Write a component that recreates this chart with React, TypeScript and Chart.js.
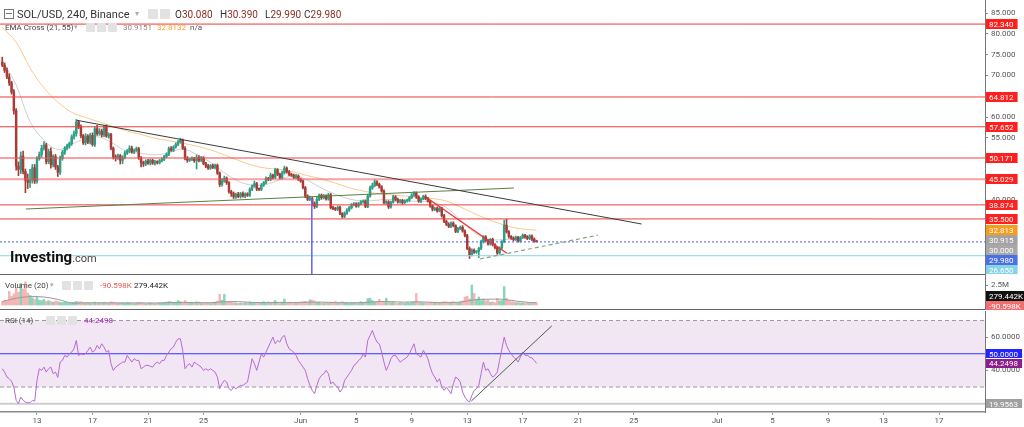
import React, { useEffect, useRef } from 'react';
import { Chart, registerables } from 'chart.js';

Chart.register(...registerables);

const FONT = 'Roboto, "Liberation Sans", Arial, sans-serif';

/* ======================= DATA ======================= */
// 4-hour candles: first one opens 10 May 12:00, last one opens 18 Jun 00:00
const FIRST_OPEN = 73.2;
const CLOSE = [
  72.5, 71.2, 69.6, 68.2, 66.0, 61.5, 48.2, 47.4, 50.6, 46.9, 44.8, 44.3,
  44.9, 47.8, 44.6, 50.0, 51.0, 52.5, 53.3, 49.3, 51.7, 48.5, 50.5, 48.0,
  46.7, 50.0, 51.5, 52.5, 53.0, 53.6, 55.2, 56.0, 58.8, 57.6, 55.5, 53.8,
  55.4, 54.0, 55.6, 53.4, 57.2, 56.0, 56.6, 55.7, 57.6, 55.4, 55.8, 52.5,
  50.4, 50.2, 50.7, 49.6, 50.3, 51.3, 51.8, 52.5, 51.6, 52.0, 52.4, 50.2,
  49.0, 48.7, 49.4, 48.9, 49.6, 48.9, 49.2, 49.0, 49.5, 49.8, 50.5, 51.0,
  52.4, 52.0, 52.8, 53.4, 54.0, 54.4, 52.5, 50.1, 49.6, 49.8, 50.0, 49.5,
  50.3, 49.6, 50.2, 48.8, 48.2, 47.7, 48.3, 47.9, 48.4, 46.5, 43.8, 44.6,
  45.3, 44.2, 42.0, 41.6, 40.8, 41.4, 40.9, 41.6, 41.0, 41.5, 41.2, 42.6,
  43.4, 44.0, 42.7, 42.6, 43.6, 44.2, 45.2, 45.0, 46.0, 45.5, 47.3, 46.2,
  45.4, 46.6, 47.7, 46.8, 46.2, 46.0, 45.5, 45.8, 45.0, 44.6, 43.0, 41.0,
  40.2, 40.4, 39.2, 38.5, 40.2, 41.2, 40.6, 41.0, 40.3, 41.3, 38.2, 38.0,
  37.8, 38.3, 36.8, 36.1, 36.9, 37.6, 38.2, 38.9, 39.1, 38.6, 39.2, 39.6,
  39.8, 38.5, 41.0, 42.9, 43.5, 44.4, 43.8, 43.2, 42.2, 39.4, 39.6, 38.4,
  39.5, 40.8, 40.2, 39.6, 39.9, 39.4, 39.8, 40.0, 40.6, 41.2, 41.7, 40.8,
  39.8, 40.3, 40.9, 40.4, 39.8, 38.6, 37.8, 38.0, 37.4, 38.1, 36.3, 34.9,
  34.2, 33.7, 34.5, 33.9, 32.5, 33.2, 33.5, 32.6, 31.5, 28.4, 26.9, 28.0,
  27.5, 27.7, 28.4, 30.0, 31.2, 30.3, 29.5, 30.6, 29.3, 28.6, 27.3, 28.5,
  30.0, 34.0, 32.4, 31.3, 30.9, 30.5, 31.1, 30.2, 31.0, 31.6, 31.2, 30.8,
  31.4, 30.6, 30.08, 29.98,
];
const UPPER_WICK = [
  1.2, 0.5, 0.6, 0.8, 0.4, 0.6, 0.5, 1.0, 1.0, 1.2, 0.6, 1.5,
  2.5, 0.8, 0.8, 0.5, 0.6, 0.7, 0.8, 0.4, 0.6, 0.9, 0.4, 0.5,
  0.4, 0.6, 0.5, 0.4, 0.5, 0.4, 0.5, 0.6, 0.6, 0.4, 0.5, 0.3,
  0.6, 0.4, 0.5, 0.6, 0.4, 0.8, 0.6, 0.5, 0.4, 0.5, 0.4, 0.3,
  0.3, 0.5, 0.4, 0.3, 0.4, 0.5, 0.4, 0.6, 0.5, 0.3, 0.4, 0.3,
  0.3, 0.4, 0.3, 0.4, 0.3, 0.3, 0.4, 0.3, 0.3, 0.4, 0.3, 0.4,
  0.4, 0.5, 0.3, 0.4, 0.4, 0.5, 0.3, 0.4, 0.4, 0.3, 0.4, 0.3,
  0.6, 0.4, 0.3, 0.3, 0.3, 0.4, 0.3, 0.4, 0.3, 0.3, 0.3, 0.6,
  0.5, 0.3, 0.3, 0.4, 0.4, 0.3, 0.5, 0.3, 0.4, 0.3, 0.3, 0.4,
  0.3, 0.6, 0.3, 0.3, 0.4, 0.3, 0.4, 0.3, 0.5, 0.3, 0.4, 0.3,
  0.3, 0.4, 0.5, 0.3, 0.3, 0.3, 0.3, 0.4, 0.3, 0.3, 0.3, 0.3,
  0.3, 0.6, 0.3, 0.4, 0.5, 0.3, 0.3, 0.4, 0.3, 0.4, 0.3, 0.3,
  0.3, 0.3, 0.3, 0.2, 0.3, 0.4, 0.3, 0.3, 0.3, 0.3, 0.3, 0.3,
  0.3, 0.3, 0.4, 0.5, 0.6, 0.5, 0.3, 0.3, 0.3, 0.3, 0.3, 0.3,
  0.3, 0.4, 0.3, 0.3, 0.3, 0.3, 0.3, 0.3, 0.3, 0.4, 0.4, 0.3,
  0.3, 0.2, 0.3, 0.4, 0.3, 0.2, 0.3, 0.3, 0.4, 0.3, 0.2, 0.3,
  0.3, 0.4, 0.3, 0.3, 0.2, 0.3, 0.3, 0.4, 0.3, 0.3, 0.4, 0.3,
  0.3, 0.2, 0.3, 0.4, 0.3, 0.3, 0.3, 0.2, 0.3, 0.3, 0.3, 0.3,
  0.3, 1.2, 1.4, 0.3, 0.2, 0.3, 0.3, 0.2, 0.3, 0.3, 0.2, 0.3,
  0.3, 0.3, 0.3, 0.31,
];
const LOWER_WICK = [
  0.4, 0.5, 0.4, 0.6, 0.5, 0.8, 1.0, 1.5, 1.0, 0.6, 3.0, 1.5,
  1.2, 0.8, 0.6, 0.5, 0.4, 0.6, 0.5, 0.6, 0.5, 0.8, 0.5, 0.6,
  1.0, 0.5, 0.4, 0.5, 0.4, 0.5, 0.4, 0.5, 0.6, 0.4, 0.5, 0.4,
  0.5, 0.4, 0.5, 0.4, 0.5, 0.4, 0.4, 0.5, 0.4, 0.3, 0.5, 0.4,
  0.5, 0.8, 0.4, 0.9, 0.8, 0.4, 0.3, 0.4, 0.3, 0.4, 0.3, 0.4,
  1.0, 0.6, 0.4, 0.3, 0.4, 0.3, 0.5, 0.3, 0.3, 0.3, 0.3, 0.3,
  0.3, 0.3, 0.3, 0.3, 0.3, 0.3, 0.3, 0.4, 0.5, 0.3, 0.3, 0.4,
  2.0, 0.4, 0.3, 0.3, 0.4, 0.3, 0.3, 0.3, 0.4, 0.3, 0.5, 0.4,
  0.3, 0.4, 0.3, 0.7, 0.4, 0.4, 0.3, 0.4, 0.3, 0.4, 0.3, 0.3,
  0.3, 0.3, 0.4, 0.3, 0.3, 0.3, 0.3, 0.3, 0.3, 0.4, 0.3, 0.3,
  0.3, 0.3, 0.3, 0.3, 0.3, 0.3, 0.3, 0.3, 0.3, 0.3, 0.3, 0.4,
  0.3, 0.3, 0.5, 0.5, 0.3, 0.3, 0.4, 0.3, 0.3, 0.3, 0.3, 0.3,
  0.3, 0.3, 0.3, 0.4, 0.3, 0.3, 0.3, 0.3, 0.3, 0.3, 0.3, 0.3,
  0.3, 0.3, 0.3, 0.3, 0.3, 0.3, 0.3, 0.3, 0.3, 0.3, 0.4, 0.4,
  0.3, 0.2, 0.4, 0.3, 0.3, 0.4, 0.2, 0.3, 0.3, 0.2, 0.3, 0.4,
  0.3, 0.4, 0.2, 0.3, 0.3, 0.3, 0.4, 0.3, 0.3, 0.2, 0.4, 0.3,
  0.3, 0.3, 0.3, 0.3, 0.3, 0.3, 0.3, 0.3, 0.3, 0.3, 0.9, 0.3,
  0.3, 0.3, 1.5, 0.3, 0.3, 0.3, 0.3, 0.3, 0.3, 0.3, 0.3, 0.3,
  0.3, 0.2, 0.3, 0.4, 0.3, 0.3, 0.2, 0.3, 0.3, 0.2, 0.3, 0.3,
  0.3, 0.3, 0.2, 0.0,
];
// volume in millions
const VOLUME_M = [
  0.4, 0.6, 0.5, 1.7, 1.1, 1.4, 2.2, 1.6, 2.7, 2.0, 2.9, 1.5,
  1.2, 0.9, 0.7, 1.0, 0.6, 0.55, 0.7, 0.45, 0.55, 0.45, 0.35, 0.5,
  0.45, 0.35, 0.3, 0.35, 0.3, 0.25, 0.3, 0.35, 0.45, 0.4, 0.42, 0.3,
  0.25, 0.3, 0.2, 0.25, 0.35, 0.2, 0.25, 0.2, 0.3, 0.25, 0.2, 0.4,
  0.35, 0.25, 0.2, 0.3, 0.25, 0.2, 0.3, 0.25, 0.2, 0.15, 0.25, 0.3,
  0.3, 0.2, 0.15, 0.2, 0.25, 0.2, 0.15, 0.2, 0.25, 0.2, 0.3, 0.35,
  0.42, 0.4, 0.3, 0.35, 0.55, 0.4, 0.3, 0.55, 0.35, 0.25, 0.3, 0.25,
  0.4, 0.35, 0.2, 0.25, 0.3, 0.25, 0.2, 0.3, 0.35, 0.5, 1.35, 0.6,
  1.35, 0.4, 0.35, 0.42, 0.3, 0.25, 0.2, 0.25, 0.2, 0.3, 0.25, 0.35,
  0.3, 0.25, 0.2, 0.3, 0.25, 0.42, 0.3, 0.4, 0.3, 0.35, 0.55, 0.3,
  0.25, 0.35, 0.75, 0.3, 0.25, 0.3, 0.2, 0.25, 0.3, 0.35, 0.4, 0.45,
  0.35, 0.65, 0.6, 0.5, 0.3, 0.35, 0.25, 0.2, 0.3, 0.25, 0.35, 0.3,
  0.42, 0.25, 0.3, 0.42, 0.3, 0.25, 0.2, 0.3, 0.25, 0.3, 0.2, 0.42,
  0.3, 0.35, 0.8, 0.85, 0.55, 0.4, 0.35, 0.7, 0.3, 0.4, 0.85, 0.35,
  0.3, 0.42, 0.25, 0.2, 0.3, 0.25, 0.2, 0.3, 0.25, 0.35, 0.4, 1.45,
  0.35, 0.3, 0.25, 0.3, 0.2, 0.3, 0.35, 0.3, 0.25, 0.3, 0.35, 0.42,
  0.4, 0.3, 0.35, 0.42, 0.3, 0.25, 0.4, 0.5, 1.0, 1.1, 0.75, 2.5,
  1.45, 0.65, 1.0, 0.55, 0.75, 0.5, 0.62, 0.35, 0.4, 0.3, 0.8, 0.5,
  0.55, 2.3, 0.85, 0.55, 0.4, 0.42, 0.3, 0.35, 0.25, 0.3, 0.2, 0.25,
  0.2, 0.25, 0.3, 0.28,
];
const RSI14 = [
  41, 39, 36, 35, 33.5, 30, 22, 19.96, 24, 22, 21, 20.5,
  20.6, 22, 21.5, 34, 41, 40, 42, 39, 41, 42, 38, 39,
  35.8, 45, 46, 49, 48, 50, 51, 53, 58, 49, 50, 49.5,
  50, 52, 54, 51, 52, 55, 53, 56, 54, 51, 52, 44,
  40, 42, 43, 44, 45, 45, 49, 47, 45, 47, 46, 46,
  41, 42, 43, 43, 42.5, 42, 44, 45, 44, 46, 46, 49,
  51, 53, 54, 57, 59, 59, 52, 41, 43, 44, 42, 45,
  44, 43, 42, 40, 41, 40, 41, 40, 39, 36, 29, 32,
  34, 33, 29, 28, 30, 29, 30, 31, 31, 32, 33, 40,
  47, 44, 40, 45, 50, 48, 51, 54, 57, 60, 56, 58,
  57, 60, 61, 56, 53, 52, 51, 49, 46, 44, 42, 40,
  35, 31, 28, 26, 31, 35, 37, 38, 40, 38, 32, 33,
  31, 30, 27, 29, 34, 36, 38, 40, 43, 44, 46, 47,
  50, 48, 58, 61, 64, 60, 57, 56, 51, 45, 40, 43,
  47, 49, 49, 47, 45, 46, 47, 48, 50, 53, 56, 50,
  49, 48, 52, 50, 47, 42, 38, 36, 33, 35, 30, 28,
  30, 28, 26, 32, 36, 35, 33, 27, 24, 22, 21, 25,
  28, 29, 31, 38, 45, 40, 41, 38, 36, 37, 39, 46,
  53, 60, 55, 52, 50, 48, 47, 45, 48, 51, 49, 49,
  48, 47.5, 46, 44.25,
];
// indicator values sampled once a day (candle index)
const DAILY_INDEX = [0, 6, 12, 18, 24, 30, 36, 42, 48, 54, 60, 66, 72, 78, 84, 90, 96, 102, 108, 114, 120, 126, 132, 138, 144, 150, 156, 162, 168, 174, 180, 186, 192, 198, 204, 210, 216, 222, 228, 231];
const EMA21 = [73.5, 67.7, 58.9, 54.4, 52.2, 53.5, 54.8, 55.2, 53.6, 51.7, 51.3, 50.9, 51.4, 52.3, 51.0, 49.1, 46.6, 44.6, 43.6, 43.8, 44.9, 45.9, 44.8, 42.9, 41.4, 40.3, 39.8, 40.0, 40.2, 39.9, 39.7, 39.5, 38.2, 35.3, 32.3, 30.6, 30.5, 30.8, 30.9, 30.92];
const EMA55 = [81.5, 78.0, 71.8, 67.0, 63.6, 61.1, 59.9, 58.8, 57.7, 56.6, 55.8, 54.9, 54.3, 53.7, 53.0, 52.1, 50.9, 49.6, 48.4, 47.7, 47.4, 46.8, 45.9, 45.1, 44.1, 43.0, 42.2, 41.6, 41.3, 41.0, 40.7, 40.4, 39.8, 38.4, 36.8, 35.4, 34.2, 33.3, 32.9, 32.81];
const VOL_MA20 = [0.42, 0.85, 1.05, 1.0, 0.7, 0.25, 0.28, 0.28, 0.27, 0.26, 0.26, 0.25, 0.3, 0.32, 0.3, 0.29, 0.4, 0.42, 0.33, 0.29, 0.32, 0.31, 0.35, 0.36, 0.3, 0.28, 0.3, 0.42, 0.42, 0.36, 0.4, 0.33, 0.3, 0.36, 0.65, 0.72, 0.72, 0.5, 0.32, 0.29];

const LEVELS = [82.34, 64.812, 57.652, 50.171, 45.029, 38.874, 35.5];
const LEVEL_TEXT = ['82.340', '64.812', '57.652', '50.171', '45.029', '38.874', '35.500'];
const LAST_PRICE = 29.98;
const CYAN_LEVEL = 26.65;
const PRICE_TICKS = [25, 30, 35, 40, 45, 50, 55, 60, 65, 70, 75, 80, 85];

// drawn trend lines: [candle index, price]
const DESC_TREND = [[32.2, 59.21], [276.4, 34.28]];
const GREEN_TREND = [[10.2, 37.89], [221.2, 42.94]];
const RED_TREND = [[184.0, 40.4], [218.1, 27.24]];
const DASH_TREND = [[206.5, 25.87], [257.5, 31.6]];
const VERTICAL_MARK = [[133.8, 40.5], [133.8, 15]];
const RSI_TREND = [[202.8, 21.6], [237.6, 66.8]];

const RSI_UPPER = 70;
const RSI_MID = 50;
const RSI_LOWER = 30;
const RSI_LOW_MARK = 19.9563;
const RSI_TICKS = [40, 50, 60];
const VOL_TICKS = [2.5];

// time axis: days after 13 May
const FIRST_CANDLE_DAY = -2.5;
const CANDLES_PER_DAY = 6;
const X_TICK_DAYS = [0, 4, 8, 12, 19, 23, 27, 31, 35, 39, 43, 49, 53, 57, 61, 65];
const X_TICK_LABELS = ['13', '17', '21', '25', 'Jun', '5', '9', '13', '17', '21', '25', 'Jul', '5', '9', '13', '17'];

/* ======================= layout / style ======================= */
const X_MIN = -0.99;
const X_MAX = 424.86;
const AXIS_W = 39;
const UP = '#2c9f86';
const DOWN = '#a83b35';
const UP_VOL = 'rgba(40,180,130,0.55)';
const DOWN_VOL = 'rgba(240,110,110,0.5)';
const THICK_LEVELS = [50.171, 45.029];

const OPEN = CLOSE.map((_, i) => (i === 0 ? FIRST_OPEN : CLOSE[i - 1]));
const HIGH = CLOSE.map((c, i) => Math.max(OPEN[i], c) + UPPER_WICK[i]);
const LOW = CLOSE.map((c, i) => Math.min(OPEN[i], c) - LOWER_WICK[i]);
const RISING = CLOSE.map((c, i) => c >= OPEN[i]);
const dayToIndex = (d: number) => (d - FIRST_CANDLE_DAY) * CANDLES_PER_DAY;

function seg(points: number[][], color: string, width = 1, dash: number[] = [], order = 1) {
  return {
    type: 'line',
    data: points.map(([x, y]) => ({ x, y })),
    borderColor: color,
    borderWidth: width,
    borderDash: dash,
    pointRadius: 0,
    fill: false,
    tension: 0,
    order,
  };
}

type AxisLabel = { value: number; text: string; bg: string; fg: string };

function axisLabels(id: string, labels: AxisLabel[], dir: 'down' | 'up', h: number) {
  return {
    id,
    afterDraw(chart: any) {
      const { ctx, chartArea } = chart;
      const ys = chart.scales.y;
      const sorted = [...labels].sort((a, b) => (dir === 'down' ? b.value - a.value : a.value - b.value));
      let prev = dir === 'down' ? -1e9 : 1e9;
      ctx.save();
      ctx.font = '8px ' + FONT;
      ctx.textBaseline = 'middle';
      for (const l of sorted) {
        let py = ys.getPixelForValue(l.value);
        if (dir === 'down' && py < prev + h) py = prev + h;
        if (dir === 'up' && py > prev - h) py = prev - h;
        prev = py;
        const w = ctx.measureText(l.text).width + 7;
        ctx.fillStyle = l.bg;
        ctx.fillRect(chartArea.right + 1, Math.round(py - h / 2), w, h);
        ctx.fillStyle = l.fg;
        ctx.fillText(l.text, chartArea.right + 4, Math.round(py) + 0.5);
      }
      ctx.restore();
    },
  };
}

const rsiBand = {
  id: 'rsiBand',
  beforeDatasetsDraw(chart: any) {
    const { ctx, chartArea } = chart;
    const y = chart.scales.y;
    const top = y.getPixelForValue(RSI_UPPER);
    const bot = y.getPixelForValue(RSI_LOWER);
    ctx.save();
    ctx.fillStyle = '#f3e6f4';
    ctx.fillRect(chartArea.left, top, chartArea.right - chartArea.left, bot - top);
    ctx.restore();
  },
};

function xScale(show: boolean): any {
  const s: any = {
    type: 'linear',
    display: show,
    min: X_MIN,
    max: X_MAX,
    offset: false,
    afterBuildTicks: (sc: any) => {
      sc.ticks = X_TICK_DAYS.map((d) => ({ value: dayToIndex(d) }));
    },
    ticks: {
      autoSkip: false,
      maxRotation: 0,
      color: '#555',
      font: { size: 8, family: FONT },
      padding: 1,
      callback: (_v: any, i: number) => X_TICK_LABELS[i],
    },
    grid: { drawOnChartArea: false, drawTicks: true, tickLength: 3, color: '#999', offset: false },
    border: { display: true, color: '#8a8a8a', width: 1.5 },
  };
  if (show) {
    s.afterFit = (sc: any) => {
      sc.height = 15;
      sc.paddingLeft = 0;
      sc.paddingRight = 0;
    };
  }
  return s;
}

function yScale(min: number, max: number, ticks: number[], fmt: (v: number) => string): any {
  return {
    position: 'right',
    min,
    max,
    afterBuildTicks: (sc: any) => {
      sc.ticks = ticks.map((v) => ({ value: v }));
    },
    ticks: { color: '#555', font: { size: 8, family: FONT }, padding: 3, callback: (v: any) => fmt(Number(v)) },
    grid: { drawOnChartArea: false, drawTicks: true, tickLength: 3, color: '#888' },
    border: { display: true, color: '#777', width: 1 },
    afterFit: (sc: any) => {
      sc.width = AXIS_W;
      sc.paddingTop = 0;
      sc.paddingBottom = 0;
    },
  };
}

const baseOptions = {
  responsive: false,
  animation: false,
  devicePixelRatio: 1,
  events: [],
  plugins: { legend: { display: false }, tooltip: { enabled: false } },
};

function Icons({ left, top, n, size = 9 }: { left: number; top: number; n: number; size?: number }) {
  return (
    <>
      {Array.from({ length: n }).map((_, k) => (
        <div
          key={k}
          style={{
            position: 'absolute',
            left: left + k * (size + 2),
            top,
            width: size,
            height: size,
            background: '#e2e2e2',
            borderRadius: 1,
          }}
        />
      ))}
    </>
  );
}

function T({ x, y, size, color = '#333', weight = 400, children }: any) {
  return (
    <div
      style={{
        position: 'absolute',
        left: x,
        top: y,
        fontSize: size,
        color,
        fontWeight: weight,
        lineHeight: 1,
        whiteSpace: 'nowrap',
        fontFamily: FONT,
      }}
    >
      {children}
    </div>
  );
}

export default function App() {
  const priceRef = useRef<HTMLCanvasElement>(null);
  const volRef = useRef<HTMLCanvasElement>(null);
  const rsiRef = useRef<HTMLCanvasElement>(null);

  useEffect(() => {
    const charts: Chart[] = [];
    const idx = CLOSE.map((_, i) => i);

    const priceLabels: AxisLabel[] = [
      ...LEVELS.map((v, k) => ({ value: v, text: LEVEL_TEXT[k], bg: '#ff1f1f', fg: '#fff' })),
      { value: EMA55[EMA55.length - 1], text: '32.813', bg: '#f89c1c', fg: '#fff' },
      { value: EMA21[EMA21.length - 1], text: '30.915', bg: '#a3a3a3', fg: '#fff' },
      { value: 30.0, text: '30.000', bg: '#a8a8a8', fg: '#fff' },
      { value: LAST_PRICE, text: '29.980', bg: '#4a70e6', fg: '#fff' },
      { value: CYAN_LEVEL, text: '26.650', bg: '#86d4e6', fg: '#fff' },
    ];

    charts.push(
      new Chart(priceRef.current as HTMLCanvasElement, {
        type: 'bar',
        data: {
          datasets: [
            ...LEVELS.map((v) =>
              THICK_LEVELS.includes(v)
                ? seg([[X_MIN, v], [X_MAX, v]], 'rgba(242,80,80,0.55)', 2, [], 2)
                : seg([[X_MIN, v], [X_MAX, v]], '#f03a3a', 1, [], 2)
            ),
            seg([[X_MIN, LAST_PRICE], [X_MAX, LAST_PRICE]], '#4a62e8', 1, [2, 2], 2),
            seg([[X_MIN, CYAN_LEVEL], [X_MAX, CYAN_LEVEL]], '#86d4e6', 1, [], 2),
            {
              type: 'line',
              data: DAILY_INDEX.map((x, k) => ({ x, y: EMA55[k] })),
              borderColor: '#fcc88c',
              borderWidth: 1,
              pointRadius: 0,
              tension: 0.35,
              order: 9,
            },
            {
              type: 'line',
              data: DAILY_INDEX.map((x, k) => ({ x, y: EMA21[k] })),
              borderColor: '#cfcfcf',
              borderWidth: 1,
              pointRadius: 0,
              tension: 0.35,
              order: 9,
            },
            {
              type: 'bar',
              data: idx.map((i) => ({ x: i, y: [LOW[i], HIGH[i]] })),
              backgroundColor: RISING.map((r) => (r ? UP : DOWN)),
              barThickness: 1,
              grouped: false,
              order: 6,
            },
            {
              type: 'bar',
              data: idx.map((i) => ({ x: i, y: [OPEN[i], CLOSE[i]] })),
              backgroundColor: RISING.map((r) => (r ? UP : DOWN)),
              barThickness: 1.8,
              minBarLength: 1,
              grouped: false,
              order: 5,
            },
            seg(DESC_TREND, '#3b3b3b', 1, [], 1),
            seg(GREEN_TREND, '#5d7d4c', 1.2, [], 1),
            seg(RED_TREND, '#f23030', 1.3, [], 1),
            seg(DASH_TREND, '#8aa27a', 1.2, [4, 3], 1),
            seg(VERTICAL_MARK, '#6a6af2', 1, [], 1),
          ] as any,
        },
        options: {
          ...baseOptions,
          layout: { padding: 0 },
          scales: {
            x: xScale(false),
            y: yScale(22.26, 88.13, PRICE_TICKS, (v) => v.toFixed(3)),
          },
        } as any,
        plugins: [axisLabels('priceLabels', priceLabels, 'down', 10)],
      })
    );

    const volLabels: AxisLabel[] = [
      { value: -0.0906, text: '-90.598K', bg: '#f26d6d', fg: '#fff' },
      { value: 0.2794, text: '279.442K', bg: '#111', fg: '#fff' },
    ];
    charts.push(
      new Chart(volRef.current as HTMLCanvasElement, {
        type: 'bar',
        data: {
          datasets: [
            {
              type: 'line',
              data: DAILY_INDEX.map((x, k) => ({ x, y: VOL_MA20[k] })),
              borderColor: '#9a9a9a',
              borderWidth: 1,
              pointRadius: 0,
              tension: 0.3,
              order: 1,
            },
            {
              type: 'bar',
              data: idx.map((i) => ({ x: i, y: VOLUME_M[i] })),
              backgroundColor: RISING.map((r) => (r ? UP_VOL : DOWN_VOL)),
              barThickness: 1.8,
              grouped: false,
              order: 2,
            },
          ] as any,
        },
        options: {
          ...baseOptions,
          layout: { padding: 0 },
          scales: {
            x: xScale(false),
            y: yScale(-0.625, 3.875, VOL_TICKS, (v) => v + 'M'),
          },
        } as any,
        plugins: [axisLabels('volLabels', volLabels, 'up', 10)],
      })
    );

    const rsiLabels: AxisLabel[] = [
      { value: RSI_MID, text: '50.0000', bg: '#2323ff', fg: '#fff' },
      { value: RSI14[RSI14.length - 1], text: '44.2498', bg: '#8c1d8a', fg: '#fff' },
      { value: RSI_LOW_MARK, text: '19.9563', bg: '#a0a0a0', fg: '#fff' },
    ];
    charts.push(
      new Chart(rsiRef.current as HTMLCanvasElement, {
        type: 'line',
        data: {
          datasets: [
            seg([[X_MIN, RSI_UPPER], [X_MAX, RSI_UPPER]], '#9a9a9a', 1, [4, 3], 5),
            seg([[X_MIN, RSI_LOWER], [X_MAX, RSI_LOWER]], '#9a9a9a', 1, [4, 3], 5),
            seg([[X_MIN, RSI_MID], [X_MAX, RSI_MID]], '#3030ff', 1, [], 4),
            seg([[X_MIN, RSI_LOW_MARK], [X_MAX, RSI_LOW_MARK]], '#cdcdcd', 2, [], 4),
            {
              type: 'line',
              data: idx.map((i) => ({ x: i, y: RSI14[i] })),
              borderColor: '#b56ad2',
              borderWidth: 1,
              pointRadius: 0,
              tension: 0,
              order: 2,
            },
            seg(RSI_TREND, '#4e5e48', 1, [], 1),
          ] as any,
        },
        options: {
          ...baseOptions,
          layout: { padding: { top: 1, left: 0, right: 0, bottom: 0 } },
          scales: {
            x: xScale(true),
            y: yScale(15.0, 75.7, RSI_TICKS, (v) => v.toFixed(4)),
          },
        } as any,
        plugins: [rsiBand, axisLabels('rsiLabels', rsiLabels, 'down', 9)],
      })
    );

    return () => charts.forEach((c) => c.destroy());
  }, []);

  const sep = (top: number) => (
    <div style={{ position: 'absolute', left: 0, top, width: 985, height: 1, background: '#666' }} />
  );

  return (
    <div
      style={{
        position: 'absolute',
        left: 0,
        top: 0,
        width: 1024,
        height: 427,
        background: '#fff',
        overflow: 'hidden',
        fontFamily: FONT,
      }}
    >
      <canvas ref={priceRef} width={1024} height={274} style={{ position: 'absolute', left: 0, top: 0 }} />
      <canvas ref={volRef} width={1024} height={36} style={{ position: 'absolute', left: 0, top: 274 }} />
      <canvas ref={rsiRef} width={1024} height={117} style={{ position: 'absolute', left: 0, top: 310 }} />
      {sep(274)}
      {sep(309)}

      {/* header row 1 */}
      <div
        style={{
          position: 'absolute',
          left: 4,
          top: 9,
          width: 8,
          height: 8,
          border: '1px solid #777',
          background: '#fff',
        }}
      >
        <div style={{ position: 'absolute', left: 1, top: 3, width: 6, height: 1, background: '#777' }} />
      </div>
      <T x={17} y={9} size={11} color="#333">SOL/USD, 240, Binance</T>
      <T x={135} y={10} size={8} color="#aaa">▾</T>
      <Icons left={148} top={9} n={2} size={10} />
      <T x={175} y={9.5} size={10} color="#333">O<span style={{ color: '#8b2e24' }}>30.080</span></T>
      <T x={220} y={9.5} size={10} color="#333">H<span style={{ color: '#8b2e24' }}>30.390</span></T>
      <T x={265} y={9.5} size={10} color="#333">L<span style={{ color: '#8b2e24' }}>29.990</span></T>
      <T x={304} y={9.5} size={10} color="#333">C<span style={{ color: '#8b2e24' }}>29.980</span></T>

      {/* header row 2 */}
      <T x={5} y={23.5} size={8} color="#444">EMA Cross (21, 55)</T>
      <T x={74} y={24} size={7} color="#aaa">▾</T>
      <Icons left={86} top={23} n={3} size={9} />
      <T x={123} y={23.5} size={8} color="#888">30.9151</T>
      <T x={157} y={23.5} size={8} color="#f5a623">32.8132</T>
      <T x={190} y={23.5} size={8} color="#555">n/a</T>

      {/* investing logo */}
      <T x={10} y={250} size={15} color="#111" weight={700}>
        Investing<span style={{ fontSize: 11, fontWeight: 400, color: '#444' }}>.com</span>
      </T>

      {/* volume legend */}
      <T x={5} y={281.5} size={8} color="#444">Volume (20)</T>
      <T x={50} y={282} size={7} color="#aaa">▾</T>
      <Icons left={62} top={281} n={3} size={9} />
      <T x={100} y={281.5} size={8} color="#ef5350">-90.598K</T>
      <T x={134} y={281.5} size={8} color="#222">279.442K</T>

      {/* rsi legend */}
      <T x={5} y={316.5} size={8} color="#444">RSI (14)</T>
      <Icons left={46} top={316} n={3} size={9} />
      <T x={84} y={316.5} size={8} color="#9c27b0">44.2498</T>
    </div>
  );
}
